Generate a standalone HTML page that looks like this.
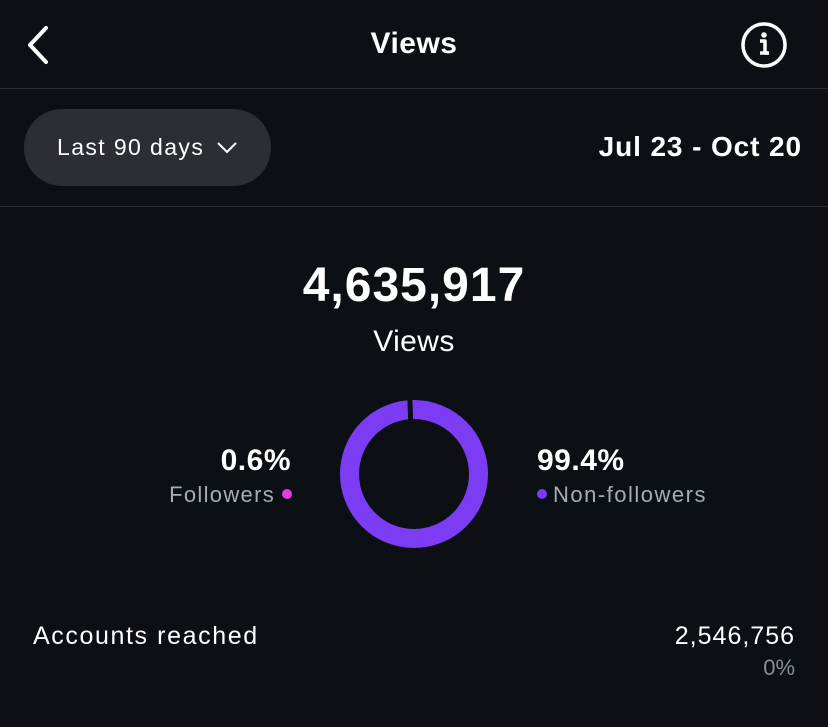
<!DOCTYPE html>
<html><head><style>
html,body{margin:0;padding:0;background:#0c1014;width:828px;height:727px;overflow:hidden;font-family:"Liberation Sans",sans-serif;color:#fff}
.a{position:absolute;white-space:nowrap}
.hr{position:absolute;left:0;width:828px;height:1px;background:#2a2e33}
</style></head><body>
<svg class="a" style="left:24px;top:24px" width="30" height="42"><polyline points="22,4 6,21 22,38" fill="none" stroke="#fff" stroke-width="4" stroke-linecap="round" stroke-linejoin="round"/></svg>
<div class="a" style="left:0;width:828px;text-align:center;top:27px;font-size:30px;font-weight:bold;letter-spacing:0.5px">Views</div>
<svg class="a" style="left:740px;top:21px" width="48" height="48"><circle cx="24" cy="24" r="21" fill="none" stroke="#fff" stroke-width="3.5"/><circle cx="24" cy="14" r="2.8" fill="#fff"/><path d="M20 20h5v12h3" fill="none" stroke="#fff" stroke-width="3.5" stroke-linejoin="round"/><path d="M20 32h9" stroke="#fff" stroke-width="3.5"/></svg>
<div class="hr" style="top:88px"></div>
<div class="a" style="left:24px;top:109px;width:247px;height:77px;border-radius:38px;background:#2b2f35"></div>
<div class="a" style="left:57px;top:134px;font-size:23px;letter-spacing:1.4px">Last 90 days</div>
<svg class="a" style="left:216px;top:140px" width="22" height="14"><polyline points="2,3 11,12 20,3" fill="none" stroke="#fff" stroke-width="2"/></svg>
<div class="a" style="right:26px;top:131px;font-size:28px;font-weight:bold;letter-spacing:0.9px">Jul 23 - Oct 20</div>
<div class="hr" style="top:206px"></div>
<div class="a" style="left:0;width:828px;text-align:center;top:258px;font-size:48px;font-weight:bold;letter-spacing:1px">4,635,917</div>
<div class="a" style="left:0;width:828px;text-align:center;top:325px;font-size:30px;letter-spacing:0.4px">Views</div>
<svg class="a" style="left:330px;top:390px" width="170" height="170">
<circle cx="84" cy="84" r="64.5" fill="none" stroke="#7b3cf3" stroke-width="19"/>
<rect x="80" y="8" width="5" height="24" fill="#0c1014" transform="rotate(-2 84 84)"/>
</svg>
<div class="a" style="right:537px;top:444px;font-size:30px;font-weight:bold;letter-spacing:0.5px">0.6%</div>
<div class="a" style="right:553px;top:482px;font-size:22px;color:#a8adb3;letter-spacing:1.3px">Followers</div>
<div class="a" style="left:282px;top:489px;width:10px;height:10px;border-radius:50%;background:#e03de0"></div>
<div class="a" style="left:537px;top:444px;font-size:30px;font-weight:bold;letter-spacing:0.5px">99.4%</div>
<div class="a" style="left:537px;top:489px;width:10px;height:10px;border-radius:50%;background:#7b3cf3"></div>
<div class="a" style="left:553px;top:482px;font-size:22px;color:#a8adb3;letter-spacing:1.5px">Non-followers</div>
<div class="a" style="left:33px;top:622px;font-size:25px;letter-spacing:1.6px">Accounts reached</div>
<div class="a" style="right:33px;top:622px;font-size:25px;letter-spacing:1px">2,546,756</div>
<div class="a" style="right:33px;top:655px;font-size:22px;color:#8a8f95">0%</div>
</body></html>
